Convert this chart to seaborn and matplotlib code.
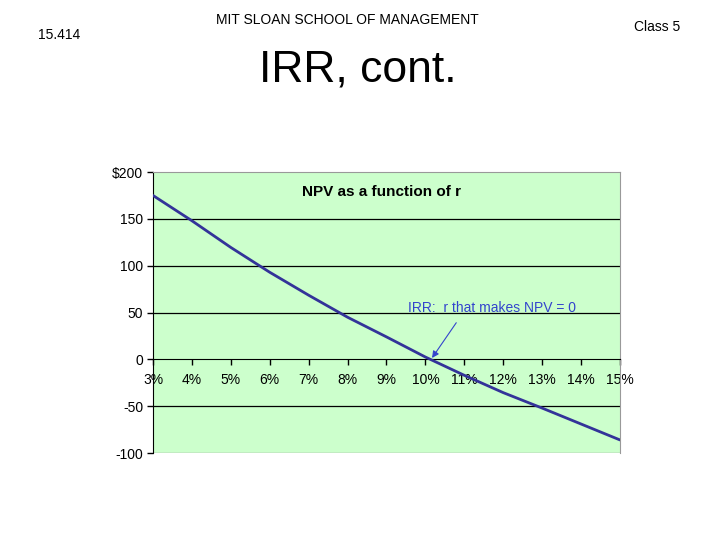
import matplotlib
matplotlib.use("Agg")
import matplotlib.pyplot as plt
import seaborn as sns
import pandas as pd

# NPV at each integer rate
rates = [3, 4, 5, 6, 7, 8, 9, 10, 11, 12, 13, 14, 15]
npv = [175, 148, 119.5, 93, 68.5, 45, 24, 2.5, -17, -35.5, -52, -69, -86]
y_ticks = [200, 150, 100, 50, 0, -50, -100]
y_labels = ["$200", "150", "100", "50", "0", "-50", "-100"]
x_labels = [f"{r}%" for r in rates]

df = pd.DataFrame({"rate": rates, "npv": npv})

sns.set_style("white")
plt.rcParams["font.family"] = ["Liberation Sans", "DejaVu Sans"]
plt.rcParams["text.color"] = "black"

fig = plt.figure(figsize=(7.2, 5.4), dpi=100)
ax = fig.add_axes([0.2125, 0.161, 0.6486, 0.5204])
ax.set_facecolor("#ccffcc")

# horizontal grid lines
for v in [150, 100, 50, -50]:
    ax.axhline(v, color="black", lw=0.9, zorder=1)
ax.axhline(-100, color="#999999", lw=1, zorder=1)

sns.lineplot(data=df, x="rate", y="npv", color="#333399", lw=2, ax=ax, zorder=3)

ax.set_xlim(3, 15)
ax.set_ylim(-100, 200)
ax.set_xticks(rates)
ax.set_xticklabels(x_labels)
ax.set_yticks(y_ticks)
ax.set_yticklabels(y_labels)
ax.set_xlabel("")
ax.set_ylabel("")

ax.spines["bottom"].set_position(("data", 0))
ax.spines["bottom"].set_color("black")
ax.spines["left"].set_color("black")
ax.spines["top"].set_color("#999999")
ax.spines["right"].set_color("#999999")
ax.tick_params(axis="x", direction="out", length=4, width=1, colors="black",
               labelsize=10, pad=6)
ax.tick_params(axis="y", direction="out", length=4, width=1, colors="black",
               labelsize=10, pad=3)
ax.tick_params(left=True, bottom=True)

ax.text(0.49, 0.93, "NPV as a function of r", transform=ax.transAxes,
        ha="center", va="center", fontsize=11, fontweight="bold")

ax.annotate("IRR:  r that makes NPV = 0", xy=(10.17, 1.5), xytext=(9.55, 55),
            color="#3344cc", fontsize=10, va="center", ha="left",
            arrowprops=dict(arrowstyle="-|>", color="#3344cc", lw=0.8,
                            relpos=(0.32, 0), shrinkA=4, shrinkB=0))

fig.text(38 / 720, 1 - 35 / 540, "15.414", fontsize=10, ha="left", va="center")
fig.text(347 / 720, 1 - 20 / 540, "MIT SLOAN SCHOOL OF MANAGEMENT", fontsize=10,
         ha="center", va="center")
fig.text(680 / 720, 1 - 27 / 540, "Class 5", fontsize=10, ha="right", va="center")
fig.text(358 / 720, 1 - 70 / 540, "IRR, cont.", fontsize=32, ha="center", va="center")

fig.savefig("out.png", dpi=100)
